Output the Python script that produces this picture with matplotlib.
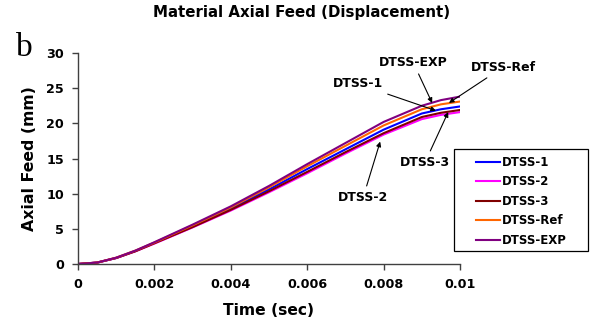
import matplotlib
matplotlib.use("Agg")
import matplotlib.pyplot as plt
from matplotlib.patches import Rectangle

# time (sec) and axial feed (mm)
time = [0, 0.0005, 0.001, 0.0015, 0.002, 0.003, 0.004, 0.005, 0.006, 0.007, 0.008, 0.009, 0.0095, 0.01]
dtss_1 = [0, 0.2, 0.85, 1.85, 3.0, 5.35, 7.85, 10.6, 13.5, 16.3, 19.1, 21.4, 22.0, 22.4]
dtss_2 = [0, 0.2, 0.85, 1.8, 2.9, 5.2, 7.6, 10.2, 12.9, 15.7, 18.4, 20.6, 21.2, 21.6]
dtss_3 = [0, 0.2, 0.85, 1.8, 2.95, 5.25, 7.7, 10.35, 13.1, 15.9, 18.6, 20.9, 21.5, 21.9]
dtss_ref = [0, 0.2, 0.9, 1.9, 3.05, 5.5, 8.05, 10.9, 13.9, 16.8, 19.7, 22.0, 22.7, 23.1]
dtss_exp = [0, 0.2, 0.9, 1.9, 3.1, 5.6, 8.2, 11.1, 14.2, 17.2, 20.2, 22.5, 23.3, 23.8]

series = [
    ("DTSS-1", dtss_1, "#0000FF"),
    ("DTSS-2", dtss_2, "#FF00FF"),
    ("DTSS-3", dtss_3, "#800000"),
    ("DTSS-Ref", dtss_ref, "#FF6600"),
    ("DTSS-EXP", dtss_exp, "#800080"),
]

# callout labels: (text, text position, arrow tip) in data units
callouts = [
    ("DTSS-EXP", (0.00877, 28.7), (0.00927, 22.9)),
    ("DTSS-Ref", (0.01113, 28.0), (0.00971, 22.9)),
    ("DTSS-1", (0.00733, 25.6), (0.00937, 21.8)),
    ("DTSS-3", (0.00908, 14.4), (0.00969, 21.6)),
    ("DTSS-2", (0.00746, 9.4), (0.00791, 17.4)),
]

W, H = 590, 324
fig = plt.figure(figsize=(W / 100, H / 100), dpi=100)
ax = fig.add_axes([0.1322, 0.1852, 0.6475, 0.6512])

for name, vals, color in series:
    ax.plot(time, vals, color=color, lw=1.5, label=name)

ax.set_xlim(0, 0.01)
ax.set_ylim(0, 30)
ax.set_xticks([0, 0.002, 0.004, 0.006, 0.008, 0.01])
ax.set_xticklabels(["0", "0.002", "0.004", "0.006", "0.008", "0.01"])
ax.set_yticks(range(0, 31, 5))
ax.spines["top"].set_visible(False)
ax.spines["right"].set_visible(False)
for s in ["left", "bottom"]:
    ax.spines[s].set_color("#404040")
    ax.spines[s].set_linewidth(1.0)
ax.tick_params(direction="out", length=4, width=1, color="#404040", labelsize=9.2, pad=6)
for lab in ax.get_xticklabels() + ax.get_yticklabels():
    lab.set_fontweight("bold")

ax.set_xlabel("Time (sec)", fontsize=11.2, fontweight="bold", labelpad=9)
ax.set_ylabel("Axial Feed (mm)", fontsize=11.3, fontweight="bold", labelpad=7)

for text, xyt, xy in callouts:
    ax.annotate(text, xy=xy, xytext=xyt, ha="center", va="center",
                fontsize=9, fontweight="bold", annotation_clip=False,
                arrowprops=dict(arrowstyle="-|>", color="black", lw=0.8,
                                mutation_scale=7, shrinkA=2, shrinkB=0))

# legend without its own frame, plus a frame box drawn in figure pixels
leg = fig.legend(*ax.get_legend_handles_labels(), loc="upper left",
                 bbox_to_anchor=(476 / W, 1 - 156 / H), bbox_transform=fig.transFigure,
                 prop=dict(size=8.5, weight="bold"), frameon=False,
                 handlelength=2.0, labelspacing=0.55, borderpad=0,
                 handletextpad=0.15, borderaxespad=0)
fig.patches.append(Rectangle((454 / W, 1 - 251 / H), 134 / W, 102 / H,
                             transform=fig.transFigure, fill=False,
                             edgecolor="black", lw=0.9))

fig.text(302 / W, 1 - 12 / H, "Material Axial Feed (Displacement)", ha="center", va="center",
         fontsize=10.8, fontweight="bold")
fig.text(24 / W, 1 - 48 / H, "b", ha="center", va="center", fontsize=24,
         family="Liberation Serif")

fig.savefig("out.png", dpi=100)
